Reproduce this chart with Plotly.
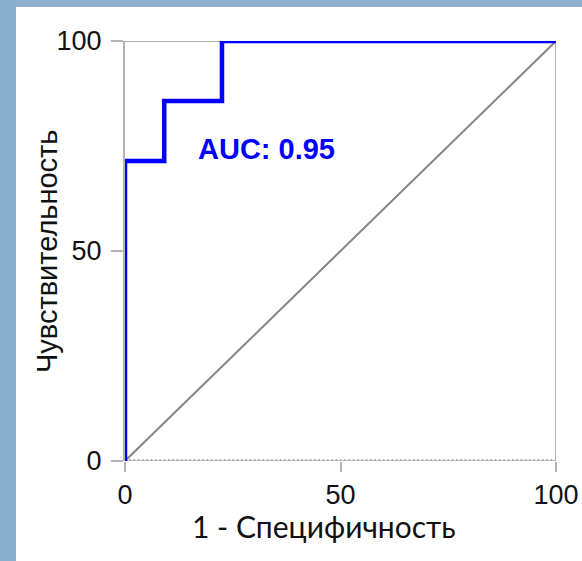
import plotly.graph_objects as go

# ROC curve data (1 - specificity, sensitivity), in percent
fpr = [0, 0, 9.1, 9.1, 22.5, 22.5, 100]
tpr = [0, 71.4, 71.4, 85.7, 85.7, 100, 100]
diag_x = [0, 100]
diag_y = [0, 100]
tick_vals = [0, 50, 100]
tick_text = ["0", "50", "100"]
auc_label = "AUC: 0.95"
x_title = "1 - Специфичность"
y_title = "Чувствительность"

W, H = 582, 561
ML, MR, MT, MB = 125, 26, 41, 100
PW, PH = W - ML - MR, H - MT - MB

def px_x(p):
    return (p - ML) / PW

def px_y(p):
    return (H - MB - p) / PH

fig = go.Figure()

fig.add_trace(go.Scatter(x=diag_x, y=diag_y, mode="lines",
                         line=dict(color="#858585", width=2),
                         hoverinfo="skip", showlegend=False, cliponaxis=False))
fig.add_trace(go.Scatter(x=fpr, y=tpr, mode="lines",
                         line=dict(color="#0000ff", width=4.5, shape="linear"),
                         showlegend=False, cliponaxis=False))

gray = "#b4b4b4"
blue_bg = "#8eb0cf"
shapes = [
    dict(type="rect", xref="paper", yref="paper", x0=px_x(-2), x1=px_x(16), y0=px_y(H + 2), y1=px_y(-2),
         fillcolor=blue_bg, line=dict(width=0), layer="below"),
    dict(type="rect", xref="paper", yref="paper", x0=px_x(-2), x1=px_x(W + 2), y0=px_y(7), y1=px_y(-2),
         fillcolor=blue_bg, line=dict(width=0), layer="below"),
    dict(type="line", xref="x", yref="y", x0=0, x1=100, y0=100, y1=100,
         line=dict(color=gray, width=2), layer="below"),
    dict(type="line", xref="x", yref="y", x0=100, x1=100, y0=0, y1=100,
         line=dict(color=gray, width=2), layer="below"),
    dict(type="line", xref="x", yref="y", x0=0, x1=100, y0=0, y1=0,
         line=dict(color="#a8a8a8", width=1.5), layer="below"),
    dict(type="line", xref="x", yref="y", x0=0, x1=100, y0=0, y1=0,
         line=dict(color="#a8a8a8", width=4, dash="1.5px,2.8px"), layer="below"),
]

annotations = [
    dict(x=32.8, y=74.3, xref="x", yref="y", text="<b>" + auc_label + "</b>",
         showarrow=False, font=dict(family="Liberation Sans", size=29, color="#0000ff")),
    dict(x=px_x(324), y=px_y(526), xref="paper", yref="paper", text=x_title, showarrow=False,
         xanchor="center", yanchor="middle", font=dict(family="Lato", size=30, color="#111")),
    dict(x=px_x(47), y=px_y(252), xref="paper", yref="paper", text=y_title, showarrow=False,
         textangle=-90, xanchor="center", yanchor="middle",
         font=dict(family="Liberation Sans", size=29, color="#111")),
]

fig.update_layout(
    width=W, height=H,
    margin=dict(l=ML, r=MR, t=MT, b=MB, pad=0),
    paper_bgcolor="white", plot_bgcolor="white",
    shapes=shapes,
    annotations=annotations,
    xaxis=dict(range=[0, 100], tickvals=tick_vals, ticktext=tick_text, showgrid=False, zeroline=False,
               showline=False, ticks="outside", ticklen=10, tickwidth=2, tickcolor=gray,
               ticklabelstandoff=0, automargin=False,
               tickfont=dict(family="Liberation Sans", size=27, color="#111")),
    yaxis=dict(range=[0, 100], tickvals=tick_vals, ticktext=tick_text, showgrid=False, zeroline=False,
               showline=True, linecolor=gray, linewidth=2,
               ticks="outside", ticklen=12, tickwidth=2, tickcolor=gray,
               ticklabelstandoff=4, automargin=False,
               tickfont=dict(family="Liberation Sans", size=27, color="#111")),
)

fig.write_html("out.html", config={"displayModeBar": False},
               post_script="document.body.style.margin='0';document.body.style.overflow='hidden';")
